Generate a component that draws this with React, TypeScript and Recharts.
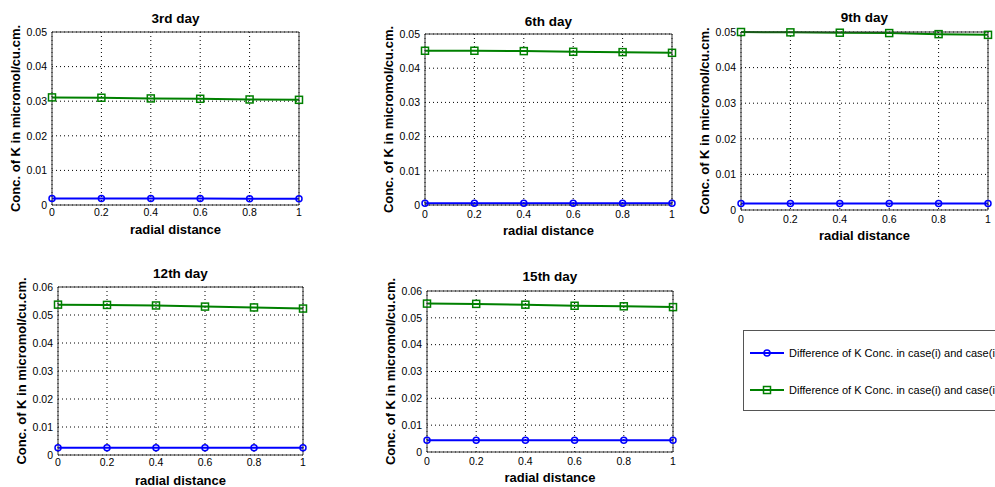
import { LineChart, Line, XAxis, YAxis, CartesianGrid, Legend } from 'recharts'

// radial distance (x) shared by every panel
const radialDistance = [0, 0.2, 0.4, 0.6, 0.8, 1]
const xTicks = [0, 0.2, 0.4, 0.6, 0.8, 1]
const yTicks05 = [0, 0.01, 0.02, 0.03, 0.04, 0.05]
const yTicks06 = [0, 0.01, 0.02, 0.03, 0.04, 0.05, 0.06]

// blue: case(i) vs case(ii), green: case(i) vs case(iii)
const day3CaseII = [0.0019, 0.0019, 0.0019, 0.0019, 0.0018, 0.0018]
const day3CaseIII = [0.0311, 0.031, 0.0308, 0.0307, 0.0305, 0.0304]
const day6CaseII = [0.0005, 0.0005, 0.0005, 0.0005, 0.0005, 0.0005]
const day6CaseIII = [0.0451, 0.0451, 0.045, 0.0448, 0.0447, 0.0445]
const day9CaseII = [0.0018, 0.0018, 0.0018, 0.0018, 0.0018, 0.0018]
const day9CaseIII = [0.05, 0.0499, 0.0498, 0.0497, 0.0494, 0.0492]
const day12CaseII = [0.0026, 0.0026, 0.0026, 0.0026, 0.0026, 0.0026]
const day12CaseIII = [0.0537, 0.0536, 0.0534, 0.053, 0.0527, 0.0523]
const day15CaseII = [0.0044, 0.0044, 0.0044, 0.0044, 0.0044, 0.0044]
const day15CaseIII = [0.0553, 0.0552, 0.0549, 0.0545, 0.0543, 0.054]

const nameCaseII = 'Difference of K Conc. in case(i) and case(ii)'
const nameCaseIII = 'Difference of K Conc. in case(i) and case(iii)'

const BLUE = '#0000ff'
const GREEN = '#008000'
const AXIS = '#333'
const FONT = '"Liberation Sans", Arial, sans-serif'

const PAD_LEFT = 52
const PAD_TOP = 40
const PAD_RIGHT = 10
const PAD_BOTTOM = 32

const SquareDot = (props: any) => {
  const { cx, cy } = props
  if (cx == null || cy == null) return null
  return (
    <rect
      key={`sq-${cx}-${cy}`}
      x={cx - 3.5}
      y={cy - 3.5}
      width={7}
      height={7}
      fill="none"
      stroke={GREEN}
      strokeWidth={1.5}
    />
  )
}

const LegendBox = (props: any) => {
  const { payload = [] } = props
  return (
    <div
      style={{
        width: '100%',
        height: '100%',
        boxSizing: 'border-box',
        border: '1px solid #555',
        background: '#fff',
        position: 'relative',
        fontFamily: FONT,
        fontSize: 11,
        color: '#000',
      }}
    >
      {payload.map((entry: any, i: number) => {
        const isCaseII = entry.dataKey === 'caseII'
        const y = i === 0 ? 22 : 59
        return (
          <div
            key={entry.dataKey}
            style={{ position: 'absolute', left: 6, top: y - 8, height: 16, display: 'flex', alignItems: 'center', whiteSpace: 'nowrap' }}
          >
            <svg width={34} height={16} style={{ display: 'block' }}>
              <line x1={0} x2={34} y1={8} y2={8} stroke={entry.color} strokeWidth={2} />
              {isCaseII ? (
                <circle cx={17} cy={8} r={3} fill="none" stroke={entry.color} strokeWidth={1.5} />
              ) : (
                <rect x={13.5} y={4.5} width={7} height={7} fill="none" stroke={entry.color} strokeWidth={1.5} />
              )}
            </svg>
            <span style={{ marginLeft: 5 }}>{entry.value}</span>
          </div>
        )
      })}
    </div>
  )
}

interface PanelProps {
  title: string
  caseII: number[]
  caseIII: number[]
  yTicks: number[]
  left: number
  top: number
  width: number
  height: number
  titleOffset: number
  tickGap: number
  xLabelOffset: number
  showLegend?: boolean
}

function Panel({
  title,
  caseII,
  caseIII,
  yTicks,
  left,
  top,
  width,
  height,
  titleOffset,
  tickGap,
  xLabelOffset,
  showLegend,
}: PanelProps) {
  const data = radialDistance.map((r, i) => ({ r, caseII: caseII[i], caseIII: caseIII[i] }))
  const chartLeft = left - PAD_LEFT
  const chartTop = top - PAD_TOP
  const tickStyle = { fontSize: 10.5, fill: '#000', fontFamily: FONT }
  const labelStyle = { fontSize: 13, fontWeight: 'bold', fill: '#000', fontFamily: FONT }

  return (
    <div style={{ position: 'absolute', left: chartLeft, top: chartTop }}>
      <LineChart
        width={PAD_LEFT + width + PAD_RIGHT}
        height={PAD_TOP + height + PAD_BOTTOM}
        data={data}
        margin={{ top: PAD_TOP - 1, right: PAD_RIGHT - 1, left: 0, bottom: 0 }}
      >
        <CartesianGrid stroke="#000" strokeDasharray="1 3" strokeWidth={1} />
        <XAxis
          dataKey="r"
          type="number"
          domain={[0, 1]}
          ticks={xTicks}
          height={PAD_BOTTOM}
          tickLine={false}
          tickSize={tickGap - 4}
          tickMargin={0}
          axisLine={{ stroke: AXIS }}
          tick={tickStyle}
          label={{ value: 'radial distance', position: 'insideBottom', offset: xLabelOffset, style: labelStyle }}
        />
        <XAxis
          xAxisId="top"
          orientation="top"
          type="number"
          domain={[0, 1]}
          height={1}
          tick={false}
          tickLine={false}
          axisLine={{ stroke: AXIS }}
          label={{ value: title, position: 'top', offset: titleOffset - 1, style: { ...labelStyle, fontSize: 13.5 } }}
        />
        <YAxis
          type="number"
          domain={[0, yTicks[yTicks.length - 1]]}
          ticks={yTicks}
          width={PAD_LEFT}
          tickLine={false}
          tickSize={5}
          tickMargin={0}
          axisLine={{ stroke: AXIS }}
          tick={tickStyle}
          tickFormatter={(v: number) => String(v)}
          label={{
            value: 'Conc. of K in micromol/cu.cm.',
            angle: -90,
            position: 'insideLeft',
            offset: 15,
            style: { ...labelStyle, textAnchor: 'middle' },
          }}
        />
        <YAxis
          yAxisId="right"
          orientation="right"
          type="number"
          domain={[0, 1]}
          width={1}
          tick={false}
          tickLine={false}
          axisLine={{ stroke: AXIS }}
        />
        <Line
          dataKey="caseII"
          name={nameCaseII}
          stroke={BLUE}
          strokeWidth={2}
          dot={{ r: 3, fill: 'none', stroke: BLUE, strokeWidth: 1.5 }}
          activeDot={false}
          isAnimationActive={false}
        />
        <Line
          dataKey="caseIII"
          name={nameCaseIII}
          stroke={GREEN}
          strokeWidth={2}
          dot={SquareDot}
          activeDot={false}
          isAnimationActive={false}
        />
        {showLegend && (
          <Legend
            layout="horizontal"
            verticalAlign="middle"
            align="center"
            content={LegendBox}
            wrapperStyle={{ left: 743 - chartLeft, top: 330 - chartTop, width: 300, height: 81 }}
          />
        )}
      </LineChart>
    </div>
  )
}

export default function App() {
  return (
    <div
      style={{
        position: 'fixed',
        left: 0,
        top: 0,
        width: 995,
        height: 487,
        overflow: 'hidden',
        background: '#fff',
      }}
    >
      <Panel title="3rd day" caseII={day3CaseII} caseIII={day3CaseIII} yTicks={yTicks05}
        left={52} top={32} width={247} height={173} titleOffset={9} tickGap={8} xLabelOffset={3} />
      <Panel title="6th day" caseII={day6CaseII} caseIII={day6CaseIII} yTicks={yTicks05}
        left={425} top={34} width={247} height={171} titleOffset={8} tickGap={10} xLabelOffset={2} />
      <Panel title="9th day" caseII={day9CaseII} caseIII={day9CaseIII} yTicks={yTicks05}
        left={741} top={32} width={247} height={178} titleOffset={10} tickGap={10} xLabelOffset={2} />
      <Panel title="12th day" caseII={day12CaseII} caseIII={day12CaseIII} yTicks={yTicks06}
        left={58} top={287} width={245} height={168} titleOffset={9} tickGap={8} xLabelOffset={2} />
      <Panel title="15th day" caseII={day15CaseII} caseIII={day15CaseIII} yTicks={yTicks06}
        left={427} top={291} width={246} height={161} titleOffset={10} tickGap={10} xLabelOffset={2}
        showLegend />
    </div>
  )
}
